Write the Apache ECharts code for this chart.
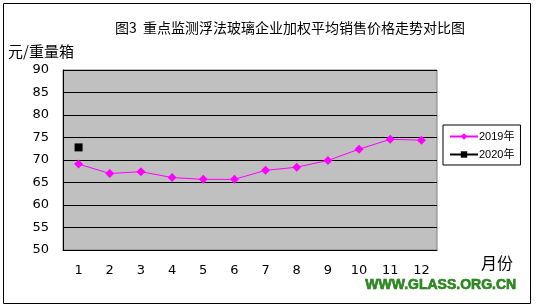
<!DOCTYPE html>
<html><head><meta charset="utf-8">
<script src="https://cdn.jsdelivr.net/npm/echarts@6/dist/echarts.min.js"></script>
<style>html,body{margin:0;padding:0;background:#fff}#c{width:537px;height:308px}</style>
</head><body><div id="c"></div>
<script>
const months = ['1','2','3','4','5','6','7','8','9','10','11','12'];
const s2019 = [69.1, 67.0, 67.4, 66.1, 65.7, 65.7, 67.7, 68.4, 69.9, 72.4, 74.6, 74.4];
const s2020 = [72.8, null, null, null, null, null, null, null, null, null, null, null];
const yTicks = [50, 90, 5];
const titleText = '图3  重点监测浮法玻璃企业加权平均销售价格走势对比图';
const yName = '元/重量箱';
const xName = '月份';
const siteText = 'WWW.GLASS.ORG.CN';

const chart = echarts.init(document.getElementById('c'), null, {renderer:'canvas'});
chart.setOption({
  animation:false,
  backgroundColor:'#fff',
  title:{text:titleText,left:285,top:16,textAlign:'center',
    textStyle:{fontSize:14,fontWeight:'normal',color:'#000',fontFamily:'"Noto Sans CJK SC",sans-serif'}},
  grid:{left:63,top:70,right:100,bottom:58,show:true,backgroundColor:'#c0c0c0',borderColor:'#808080',borderWidth:1},
  legend:{orient:'vertical',left:443,top:125,padding:[6,6,5,6],itemGap:7,
    itemWidth:28,itemHeight:8,borderColor:'#000',borderWidth:1,
    textStyle:{fontSize:11,color:'#000',padding:[0,0,0,-4],fontFamily:'"Liberation Sans","Noto Sans CJK SC",sans-serif'},
    data:['2019年','2020年']},
  xAxis:{type:'category',data:months,boundaryGap:true,
    axisLine:{lineStyle:{color:'#000',width:1}},
    axisTick:{inside:true,length:5,lineStyle:{color:'#000'}},
    axisLabel:{margin:14,fontSize:13,color:'#000',fontFamily:'"DejaVu Sans",sans-serif'},
    splitLine:{show:false}},
  yAxis:{type:'value',min:yTicks[0],max:yTicks[1],interval:yTicks[2],
    axisLine:{show:true,lineStyle:{color:'#000',width:1}},
    axisTick:{show:false},
    axisLabel:{margin:14,fontSize:13,color:'#000',fontFamily:'"DejaVu Sans",sans-serif'},
    splitLine:{show:true,lineStyle:{color:'#000',width:1}}},
  series:[
    {name:'2019年',type:'line',data:s2019,symbol:'diamond',symbolSize:9,
      lineStyle:{color:'#ff00ff',width:1},itemStyle:{color:'#ff00ff'}},
    {name:'2020年',type:'line',data:s2020,symbol:'rect',symbolSize:8,
      lineStyle:{color:'#000',width:1},itemStyle:{color:'#000'}}
  ],
  graphic:[
    {type:'rect',shape:{x:3.5,y:3.5,width:527,height:300},style:{fill:null,stroke:'#000',lineWidth:1},z:-1},
    {type:'text',left:8,top:44,style:{text:yName,fontSize:15,fill:'#000',fontFamily:'"Noto Sans CJK SC",sans-serif'}},
    {type:'text',left:481,top:255,style:{text:xName,fontSize:16,fill:'#000',fontFamily:'"Noto Sans CJK SC",sans-serif'}},
    {type:'text',left:365,top:278,style:{text:siteText,fontSize:14,fontWeight:'bold',fill:'#2a8a1e',
      stroke:'#1e6a14',lineWidth:0.6,fontFamily:'"Liberation Sans",Arial,sans-serif'}}
  ]
});
</script></body></html>
